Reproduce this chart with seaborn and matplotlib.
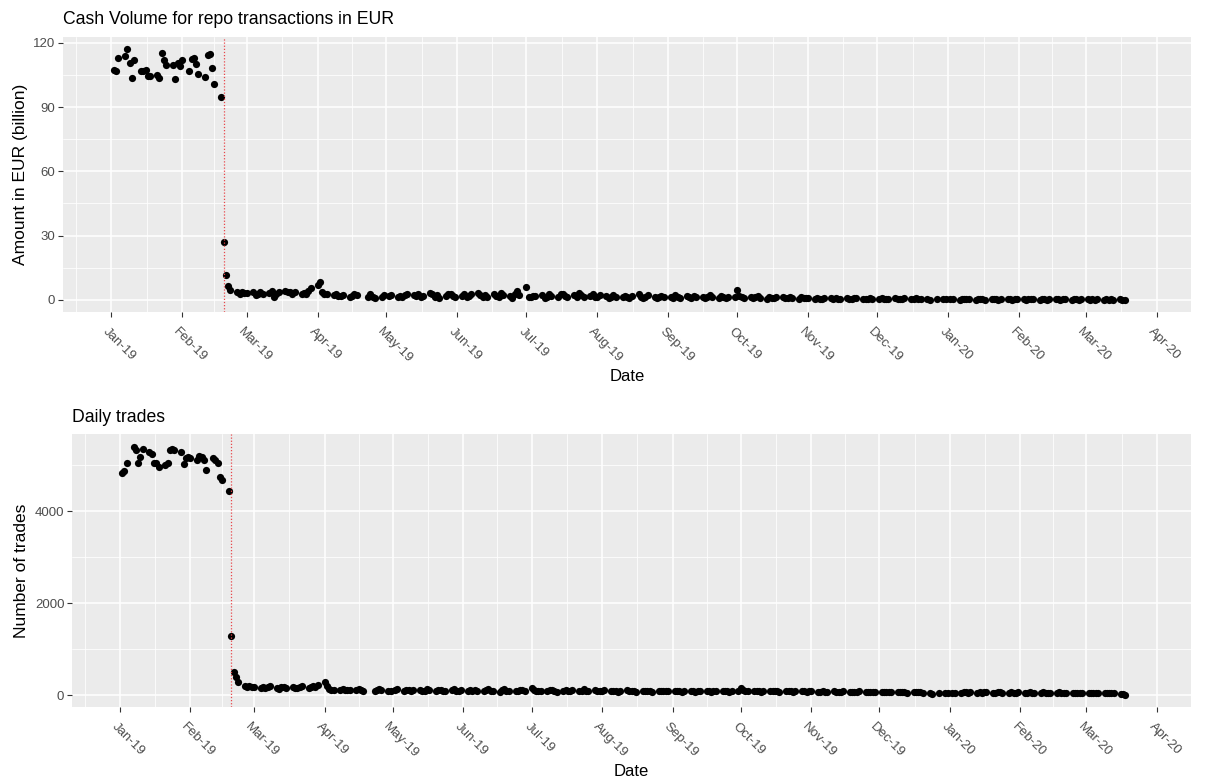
import matplotlib
matplotlib.use("Agg")
import matplotlib.pyplot as plt
import matplotlib.dates as mdates
import matplotlib.transforms as mtransforms
import numpy as np
import pandas as pd
import seaborn as sns

# business days of the TARGET calendar, 2 Jan 2019 - 18 Mar 2020
holidays = ["2019-04-19", "2019-04-22", "2019-05-01",
            "2019-12-25", "2019-12-26", "2020-01-01"]
dates = pd.bdate_range("2019-01-02", "2020-03-18", freq="C", holidays=holidays)
cutoff = pd.Timestamp("2019-02-19")

# cash volume, EUR billion (one list per month)
cash_jan19 = [107.4, 106.8, 113.0, 113.8, 116.9, 110.7, 103.5, 111.8, 106.8, 106.8, 107.4,
              104.7, 104.7, 105.0, 103.5, 115.2, 111.8, 109.7, 109.7, 102.9, 110.7, 109.1]
cash_feb19 = [111.8, 106.8, 112.5, 113.0, 110.2, 105.2, 103.9, 114.4, 114.9, 108.3, 100.7,
              94.6, 27.2, 11.8, 6.4, 4.8, 3.5, 3.0, 3.8, 3.4]
cash_mar19 = [3.2, 3.8, 2.5, 3.0, 3.6, 2.8, 3.4, 4.0, 1.5, 3.0, 3.8, 4.2, 3.5, 3.9, 3.0,
              3.6, 2.6, 3.3, 2.8, 4.0, 5.5]
cash_apr19 = [7.2, 8.5, 3.5, 3.0, 2.8, 2.2, 2.6, 2.0, 1.8, 2.4, 1.5, 2.0, 2.6, 2.3, 1.2,
              2.8, 1.6, 1.0, 1.4, 2.2]
cash_may19 = [1.8, 2.4, 1.2, 2.0, 1.6, 2.5, 3.0, 2.2, 1.8, 2.6, 1.4, 2.0, 3.2, 2.8, 1.5,
              2.2, 1.0, 1.8, 2.6, 3.0, 2.0, 1.4]
cash_jun19 = [2.0, 2.6, 1.4, 1.8, 2.9, 3.2, 2.4, 1.6, 2.2, 1.2, 2.8, 2.0, 1.5, 3.4, 2.5,
              1.8, 1.0, 3.0, 4.4, 2.2]
cash_jul19 = [6.2, 1.5, 1.2, 2.0, 1.8, 2.4, 1.0, 1.6, 2.8, 2.0, 1.4, 2.6, 3.0, 1.8, 1.2,
              2.2, 1.6, 3.2, 2.4, 1.5, 1.8, 2.6, 1.2]
cash_aug19 = [1.2, 2.2, 1.8, 1.0, 1.5, 2.4, 1.6, 1.2, 2.0, 1.4, 0.8, 1.8, 2.6, 1.5, 1.0,
              1.2, 2.2, 1.6, 1.0, 1.4, 1.8, 1.2]
cash_sep19 = [1.6, 1.0, 2.4, 1.2, 0.8, 1.8, 1.4, 1.0, 2.0, 1.6, 1.2, 0.9, 1.5, 2.2, 1.4,
              1.0, 1.8, 1.2, 0.8, 1.6, 1.4]
cash_oct19 = [4.8, 2.0, 1.2, 1.0, 1.5, 0.8, 1.2, 1.8, 1.0, 0.6, 1.4, 1.1, 0.8, 1.6, 1.2,
              0.7, 1.0, 1.5, 0.9, 0.6, 1.2, 0.8, 1.0]
cash_nov19 = [0.8, 0.5, 1.0, 0.6, 0.4, 0.9, 0.7, 0.5, 0.8, 0.3, 0.6, 1.0, 0.5, 0.4, 0.7,
              0.9, 0.3, 0.6, 0.5, 0.8, 0.4]
cash_dec19 = [0.5, 0.7, 0.3, 0.6, 0.4, 0.8, 0.5, 0.3, 0.6, 0.9, 0.4, 0.5, 0.7, 0.3, 0.5,
              0.6, 0.2, 0.4, 0.3, 0.5]
cash_jan20 = [0.3, 0.4, 0.2, 0.5, 0.3, 0.6, 0.4, 0.2, 0.3, 0.5, 0.4, 0.2, 0.6, 0.3, 0.4,
              0.2, 0.5, 0.3, 0.4, 0.2, 0.3, 0.5]
cash_feb20 = [0.3, 0.2, 0.4, 0.3, 0.5, 0.2, 0.3, 0.4, 0.2, 0.3, 0.5, 0.3, 0.2, 0.4, 0.3,
              0.2, 0.3, 0.4, 0.2, 0.3]
cash_mar20 = [0.3, 0.2, 0.4, 0.2, 0.3, 0.2, 0.3, 0.2, 0.4, 0.2, 0.3, 0.2, 0.2]

# number of trades per day
trades_jan19 = [4826, 4877, 5043, 5406, 5326, 5058, 5181, 5362, 5297, 5239, 5058,
                5058, 4971, 5007, 5058, 5326, 5348, 5333, 5297, 5022, 5152, 5188]
trades_feb19 = [5150, 5116, 5203, 5188, 5109, 4898, 5152, 5116, 5043, 4746, 4674,
                4442, 1280, 510, 390, 280, 200, 190, 210, 185]
trades_mar19 = [170, 160, 185, 150, 175, 195, 165, 140, 180, 170, 155, 190, 165, 150,
                175, 200, 160, 185, 210, 170, 230]
trades_apr19 = [290, 210, 140, 120, 125, 110, 130, 115, 120, 105, 125, 130, 110, 100,
                90, 120, 145, 110, 100, 95]
trades_may19 = [110, 130, 95, 120, 105, 90, 115, 125, 100, 85, 140, 110, 95, 105, 120,
                90, 100, 115, 130, 95, 85, 110]
trades_jun19 = [100, 120, 90, 110, 95, 85, 105, 130, 100, 90, 80, 110, 140, 95, 100,
                85, 90, 120, 105, 95]
trades_jul19 = [150, 110, 90, 100, 85, 95, 120, 105, 90, 80, 100, 115, 95, 85, 110, 90,
                100, 130, 95, 85, 105, 90, 100]
trades_aug19 = [95, 110, 85, 100, 90, 80, 95, 105, 85, 90, 100, 80, 95, 85, 90, 100, 80,
                90, 95, 85, 100, 90]
trades_sep19 = [85, 95, 90, 80, 100, 85, 90, 80, 95, 85, 100, 90, 80, 85, 95, 90, 85,
                100, 80, 90, 85]
trades_oct19 = [150, 110, 95, 90, 85, 100, 90, 80, 95, 85, 90, 100, 85, 80, 95, 90, 85,
                80, 95, 90, 85, 80, 90]
trades_nov19 = [85, 80, 75, 90, 80, 70, 85, 80, 75, 70, 85, 80, 75, 80, 70, 85, 80, 75,
                70, 80, 75]
trades_dec19 = [70, 75, 65, 80, 70, 75, 65, 70, 80, 60, 70, 75, 65, 70, 60, 40, 30, 55,
                60, 45]
trades_jan20 = [40, 55, 60, 70, 65, 60, 70, 55, 65, 60, 70, 65, 55, 60, 70, 65, 60, 55,
                65, 60, 55, 65]
trades_feb20 = [60, 55, 65, 50, 60, 55, 65, 60, 50, 55, 60, 65, 55, 50, 60, 55, 50, 60,
                55, 50]
trades_mar20 = [55, 50, 45, 55, 50, 45, 40, 50, 45, 40, 35, 30, 15]

cash = (cash_jan19 + cash_feb19 + cash_mar19 + cash_apr19 + cash_may19 + cash_jun19
        + cash_jul19 + cash_aug19 + cash_sep19 + cash_oct19 + cash_nov19 + cash_dec19
        + cash_jan20 + cash_feb20 + cash_mar20)
trades = (trades_jan19 + trades_feb19 + trades_mar19 + trades_apr19 + trades_may19
          + trades_jun19 + trades_jul19 + trades_aug19 + trades_sep19 + trades_oct19
          + trades_nov19 + trades_dec19 + trades_jan20 + trades_feb20 + trades_mar20)

df = pd.DataFrame({"date": dates, "cash": cash, "trades": trades})

sns.set_theme(style="darkgrid", rc={"axes.facecolor": "#EBEBEB", "grid.color": "white"})
plt.rcParams["font.family"] = ["Liberation Sans", "DejaVu Sans"]

fig = plt.figure(figsize=(12.14, 7.84), dpi=100)
ax1 = fig.add_axes([0.0519, 0.602, 0.9292, 0.351])
ax2 = fig.add_axes([0.0593, 0.0982, 0.9218, 0.348])

month_starts = pd.date_range("2018-12-01", "2020-05-01", freq="MS")
major_x = month_starts[1:-1]
ms_num = mdates.date2num(month_starts)
minor_x = (ms_num[:-1] + ms_num[1:]) / 2

span = dates[-1] - dates[0]
xlim = (dates[0] - 0.05 * span, dates[-1] + 0.05 * span)


def style(ax, col, ylabel, title, yticks, yminor):
    sns.scatterplot(data=df, x="date", y=col, ax=ax, color="black", s=27, linewidth=0)
    ax.axvline(cutoff, color="#E8474B", linestyle=(0, (1, 1.5)), lw=0.9)
    lo, hi = df[col].min(), df[col].max()
    pad = 0.05 * (hi - lo)
    ax.set_ylim(lo - pad, hi + pad)
    ax.set_xlim(xlim)
    ax.set_yticks(yticks)
    ax.set_yticks(yminor, minor=True)
    ax.set_xticks(major_x)
    ax.set_xticks(minor_x, minor=True)
    ax.xaxis.set_major_formatter(mdates.DateFormatter("%b-%y"))
    ax.grid(which="major", color="white", lw=1.1)
    ax.grid(which="minor", color="white", lw=0.55)
    for s in ax.spines.values():
        s.set_visible(False)
    ax.tick_params(which="major", bottom=True, left=True, length=3.5, width=0.8,
                   color="#333333", labelcolor="#4D4D4D", labelsize=9.5, pad=2)
    ax.tick_params(which="minor", length=0)
    ax.tick_params(axis="x", labelrotation=-45, pad=6)
    ax.set_xlabel("Date", fontsize=12, color="black", labelpad=3)
    ax.set_ylabel(ylabel, fontsize=12.5, color="black", labelpad=4)
    ax.set_title(title, loc="left", fontsize=12.7, color="black", pad=9)
    shift = mtransforms.ScaledTranslation(8 / 100, 0, fig.dpi_scale_trans)
    for lab in ax.get_xticklabels():
        lab.set_horizontalalignment("center")
        lab.set_transform(lab.get_transform() + shift)


style(ax1, "cash", "Amount in EUR (billion)", "Cash Volume for repo transactions in EUR",
      [0, 30, 60, 90, 120], [15, 45, 75, 105])
style(ax2, "trades", "Number of trades", "Daily trades",
      [0, 2000, 4000], [1000, 3000, 5000])

fig.savefig("out.png", dpi=100)
